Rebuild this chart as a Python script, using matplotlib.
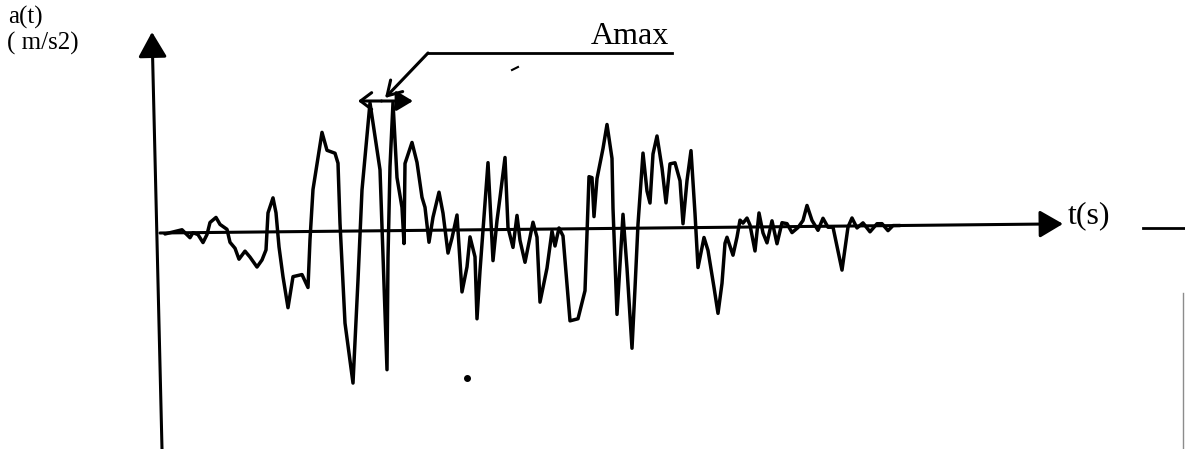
import matplotlib
matplotlib.use('Agg')
import matplotlib.pyplot as plt
from matplotlib.transforms import Affine2D

# Accelerogram a(t) (t in s, a in arbitrary m/s2 units)
t = [0.25, 1.1, 1.25, 1.5, 1.65, 1.9, 2.15, 2.35, 2.5, 2.8,
     3.0, 3.35, 3.5, 3.75, 3.95, 4.25, 4.5, 4.85, 5.1, 5.3,
     5.4, 5.65, 5.8, 5.95, 6.15, 6.4, 6.65, 7.1, 7.4, 7.5,
     7.65, 8.1, 8.35, 8.75, 8.9, 9.0, 9.25, 9.65, 9.9, 10.1,
     10.5, 11.0, 11.15, 11.35, 11.4, 11.5, 11.65, 11.85, 12.1, 12.2,
     12.25, 12.6, 12.85, 13.1, 13.25, 13.45, 13.65, 13.95, 14.15, 14.4,
     14.6, 14.85, 15.1, 15.35, 15.5, 15.75, 15.85, 16.0, 16.4, 16.65,
     16.85, 17.0, 17.25, 17.4, 17.65, 17.85, 18.0, 18.25, 18.65, 18.85,
     19.0, 19.35, 19.6, 19.75, 19.95, 20.15, 20.5, 20.9, 21.25, 21.45,
     21.6, 21.7, 21.85, 22.15, 22.35, 22.6, 22.65, 22.85, 23.0, 23.15,
     23.35, 23.6, 23.75, 23.9, 24.15, 24.35, 24.5, 24.65, 24.85, 25.1,
     25.3, 25.5, 25.75, 26.0, 26.15, 26.35, 26.55, 26.75, 26.9, 27.2,
     27.4, 27.7, 27.9, 28.1, 28.25, 28.35, 28.65, 28.85, 29.0, 29.15,
     29.35, 29.5, 29.75, 29.95, 30.15, 30.35, 30.6, 30.85, 31.1, 31.35,
     31.6, 31.9, 32.15, 32.35, 32.6, 32.9, 33.15, 33.4, 33.65, 34.1,
     34.4, 34.6, 34.85, 35.15, 35.5, 35.85, 36.1, 36.4, 36.65, 37.0]
a = [-0.1, 0.3, 0.0, -0.5, 0.0, -0.2, -1.0, -0.2, 1.0, 1.5,
     0.8, 0.3, -1.0, -1.6, -2.7, -1.9, -2.5, -3.5, -2.8, -1.8,
     1.9, 3.4, 1.9, -1.5, -4.5, -7.6, -4.5, -4.3, -5.6, -0.8,
     4.2, 9.9, 8.1, 7.8, 6.8, 0.8, -9.2, -15.2, -4.9, 4.1,
     12.8, 6.1, -2.6, -13.9, -2.7, 6.4, 12.8, 5.3, 2.3, -1.3,
     6.7, 8.8, 6.8, 3.3, 2.3, -1.2, 1.3, 3.8, 1.7, -2.3,
     -0.8, 1.5, -6.2, -3.7, -0.7, -2.7, -8.9, -4.1, 6.7, -3.1,
     0.9, 3.2, 7.2, 0.2, -1.8, 1.4, -1.1, -3.3, 0.7, -0.8,
     -7.3, -3.9, -0.2, -1.7, 0.1, -0.7, -9.2, -9.0, -6.2, 5.2,
     5.1, 1.2, 5.0, 8.0, 10.4, 7.0, 2.0, -8.6, -3.6, 1.4,
     -4.0, -12.0, -6.0, 0.4, 7.5, 3.7, 2.5, 7.4, 9.2, 6.0,
     2.5, 6.4, 6.5, 4.7, 0.4, 4.7, 7.7, 1.4, -4.0, -1.0,
     -2.3, -6.0, -8.6, -5.6, -1.6, -1.0, -2.8, -1.0, 0.7, 0.4,
     0.9, 0.2, -2.4, 1.4, -0.6, -1.6, 0.6, -1.7, 0.4, 0.3,
     -0.6, -0.1, 0.6, 2.1, 0.6, -0.4, 0.8, -0.1, -0.1, -4.4,
     -0.1, 0.8, -0.2, 0.3, -0.6, 0.2, 0.2, -0.5, 0.0, 0.0]

t_axis_end = 45.15        # end of the time axis arrow
a_axis_top = 20.1         # top of the acceleration axis arrow
amax_peaks = [10.5, 11.65]  # the two largest peaks (Amax)
amax_value = 12.8

ylabel_lines = ['a(t)', '( m/s2)']
xlabel = 't(s)'
amax_label = 'Amax'

W, H, DPI = 1185, 449, 100
fig = plt.figure(figsize=(W / DPI, H / DPI), dpi=DPI)
fig.patch.set_facecolor('white')
ax = fig.add_axes([0, 0, 1, 1])
ax.set_xlim(-8, 51.25)
ax.set_ylim(-21.6, 23.3)
ax.axis('off')

# slight hand-drawn tilt of the time axis
cx, cy = ax.transData.transform((0, 0))
tilt = ax.transData + Affine2D().translate(-cx, -cy).skew_deg(0, 0.58).translate(cx, cy)

serif = ['Liberation Serif', 'DejaVu Serif']
k = 'black'

# waveform
ax.plot(t, a, color=k, lw=2.5, solid_joinstyle='round', solid_capstyle='round',
        transform=tilt, zorder=3)

# time axis with arrow
ax.annotate('', xy=(t_axis_end, 0), xytext=(0, 0), xycoords=tilt,
            arrowprops=dict(arrowstyle='-|>,head_length=0.65,head_width=0.38',
                            mutation_scale=22, lw=2.2, color=k,
                            shrinkA=0, shrinkB=0))

# acceleration axis with arrow (slightly slanted, as drawn)
ax.annotate('', xy=(-0.4, a_axis_top), xytext=(0.1, -21.6),
            arrowprops=dict(arrowstyle='-|>,head_length=0.7,head_width=0.4',
                            mutation_scale=22, lw=2.2, color=k,
                            shrinkA=0, shrinkB=0))

# Amax leader line and arrows
ax.plot([25.6, 13.4], [18.0, 18.0], color=k, lw=2)
ax.annotate('', xy=(11.25, 13.5), xytext=(13.4, 18.0),
            arrowprops=dict(arrowstyle='->,head_length=0.5,head_width=0.3',
                            mutation_scale=20, lw=2.2, color=k,
                            shrinkA=0, shrinkB=0))
mid = (amax_peaks[0] + amax_peaks[1]) / 2
ax.annotate('', xy=(amax_peaks[0] - 0.6, amax_value + 0.4), xytext=(mid, amax_value + 0.4),
            arrowprops=dict(arrowstyle='->,head_length=0.4,head_width=0.3',
                            mutation_scale=20, lw=2.2, color=k, shrinkA=0, shrinkB=0))
ax.annotate('', xy=(amax_peaks[1] + 1.0, amax_value + 0.4), xytext=(mid, amax_value + 0.4),
            arrowprops=dict(arrowstyle='-|>,head_length=0.5,head_width=0.3',
                            mutation_scale=20, lw=2.2, color=k, shrinkA=0, shrinkB=0))

# stray marks of the scanned drawing
ax.plot([17.6, 17.9], [16.3, 16.6], color=k, lw=1.5)
ax.plot([15.35], [-14.5], 'o', color=k, ms=4)
ax.plot([49.15, 51.25], [0.5, 0.5], color=k, lw=2)
ax.plot([51.15, 51.15], [-6.0, -21.6], color='0.55', lw=1)

# labels
fig.text(8 / W, 1 - 17 / H, ylabel_lines[0], family=serif, fontsize=18,
         ha='left', va='center')
fig.text(7 / W, 1 - 43 / H, ylabel_lines[1], family=serif, fontsize=18,
         ha='left', va='center')
fig.text(630 / W, 1 - 37 / H, amax_label, family=serif, fontsize=23,
         ha='center', va='center')
fig.text(1068 / W, 1 - 216 / H, xlabel, family=serif, fontsize=23,
         ha='left', va='center')

fig.savefig('out.png', dpi=DPI, facecolor='white')
